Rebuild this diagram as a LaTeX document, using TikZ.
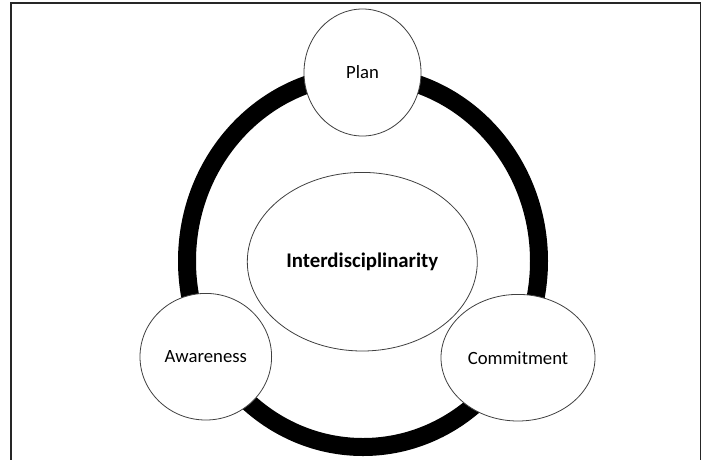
\documentclass[tikz,border=0pt]{standalone}
\usepackage{fontspec}
\setmainfont{Carlito}
\usetikzlibrary{shapes.geometric}
\tikzset{
  bubble/.style={ellipse, draw=black!75, line width=0.8pt, fill=white, inner sep=0pt,
    font=\fontsize{18.7}{22}\selectfont},
  ring/.style={line width=18pt, draw=black},
  frame/.style={line width=1.5pt, draw=black!85}
}
\begin{document}
\begin{tikzpicture}[x=1pt,y=-1pt]
\useasboundingbox (0,0) rectangle (707,459);
\fill[white] (0,0) rectangle (707,459);
\coordinate (fbl) at (11,462);
\coordinate (ftl) at (11,3);
\coordinate (ftr) at (700.5,3);
\coordinate (fbr) at (700.5,462);
\draw[frame] (fbl) -- (ftl) -- (ftr) -- (fbr);
\coordinate (ctr) at (363,261);
\draw[ring] (ctr) ellipse [x radius=176, y radius=186];
\node[bubble, minimum width=230pt, minimum height=178.6pt] (inter) at (362.3,261.7)
  {\fontsize{20.8}{24}\selectfont\bfseries Interdisciplinarity};
\node[bubble, minimum width=117pt, minimum height=127pt] (plan) at (362.5,72.5) {Plan};
\node[bubble, minimum width=131.6pt, minimum height=126.6pt] (aware) at (205.8,356.7) {Awareness};
\node[bubble, minimum width=154pt, minimum height=126.6pt] (commit) at (518,357.7) {Commitment};
\end{tikzpicture}
\end{document}
